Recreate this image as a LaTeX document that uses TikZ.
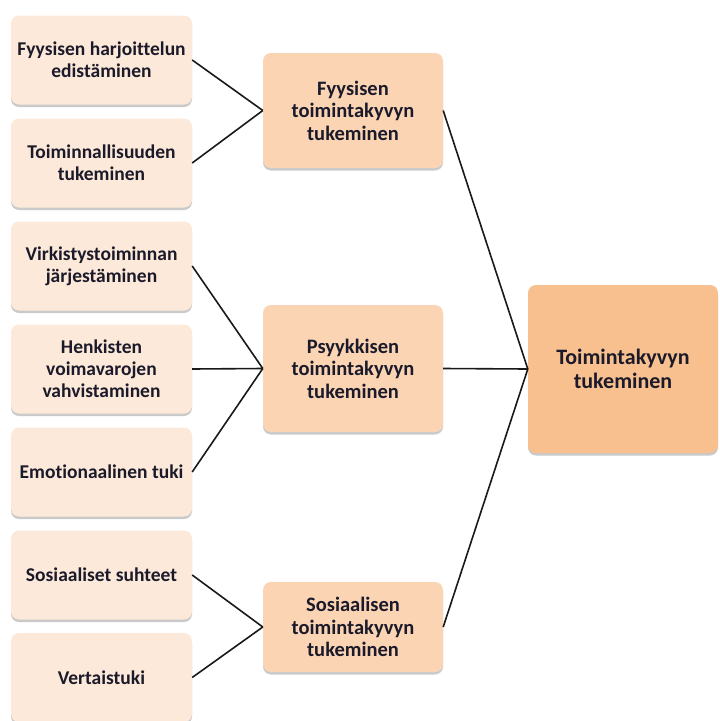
\documentclass[tikz,border=0pt]{standalone}
\usepackage{fontspec}
\setmainfont[Ligatures=NoCommon]{Carlito}
\usetikzlibrary{shadows}
\definecolor{leftfill}{HTML}{FDE9D9}
\definecolor{midfill}{HTML}{FBD4B4}
\definecolor{rightfill}{HTML}{F9C08F}
\definecolor{txt}{HTML}{1A1A2A}
\tikzset{
  box/.style={draw=none, rounded corners=8pt, inner sep=0pt, align=center,
    text=txt,
    drop shadow={shadow xshift=0pt, shadow yshift=-2.5pt, opacity=0.35, fill=black!60}},
  leftbox/.style={box, fill=leftfill, minimum width=181pt, minimum height=89pt,
    font=\fontsize{19.5}{22}\selectfont\bfseries},
  midbox/.style={box, fill=midfill, minimum width=180pt,
    font=\fontsize{20.5}{22.5}\selectfont\bfseries},
  rightbox/.style={box, fill=rightfill, minimum width=190pt, minimum height=168pt,
    font=\fontsize{22}{23.5}\selectfont\bfseries},
  conn/.style={draw=black!90, line width=1.6pt}
}
\begin{document}
\begin{tikzpicture}[x=1pt,y=-1pt]
\useasboundingbox (0,0) rectangle (720,721);
\node[leftbox] (a1) at (101.5,60) {Fyysisen harjoittelun\\edistäminen};
\node[leftbox] (a2) at (101.5,163) {Toiminnallisuuden\\tukeminen};
\node[leftbox] (a3) at (101.5,266) {Virkistystoiminnan\\järjestäminen};
\node[leftbox] (a4) at (101.5,369) {Henkisten\\voimavarojen\\vahvistaminen};
\node[leftbox] (a5) at (101.5,472) {Emotionaalinen tuki};
\node[leftbox] (a6) at (101.5,575) {Sosiaaliset suhteet};
\node[leftbox] (a7) at (101.5,677.5) {Vertaistuki};
\node[midbox, minimum height=115pt] (m1) at (353,110.5) {Fyysisen\\toimintakyvyn\\tukeminen};
\node[midbox, minimum height=127pt] (m2) at (353,368.5) {Psyykkisen\\toimintakyvyn\\tukeminen};
\node[midbox, minimum height=90pt] (m3) at (353,627) {Sosiaalisen\\toimintakyvyn\\tukeminen};
\node[rightbox] (r) at (623,369) {Toimintakyvyn\\tukeminen};
\draw[conn] (a1.east) -- (m1.west);
\draw[conn] (a2.east) -- (m1.west);
\draw[conn] (a3.east) -- (m2.west);
\draw[conn] (a4.east) -- (m2.west);
\draw[conn] (a5.east) -- (m2.west);
\draw[conn] (a6.east) -- (m3.west);
\draw[conn] (a7.east) -- (m3.west);
\draw[conn] (m1.east) -- (r.west);
\draw[conn] (m2.east) -- (r.west);
\draw[conn] (m3.east) -- (r.west);
\end{tikzpicture}
\end{document}
